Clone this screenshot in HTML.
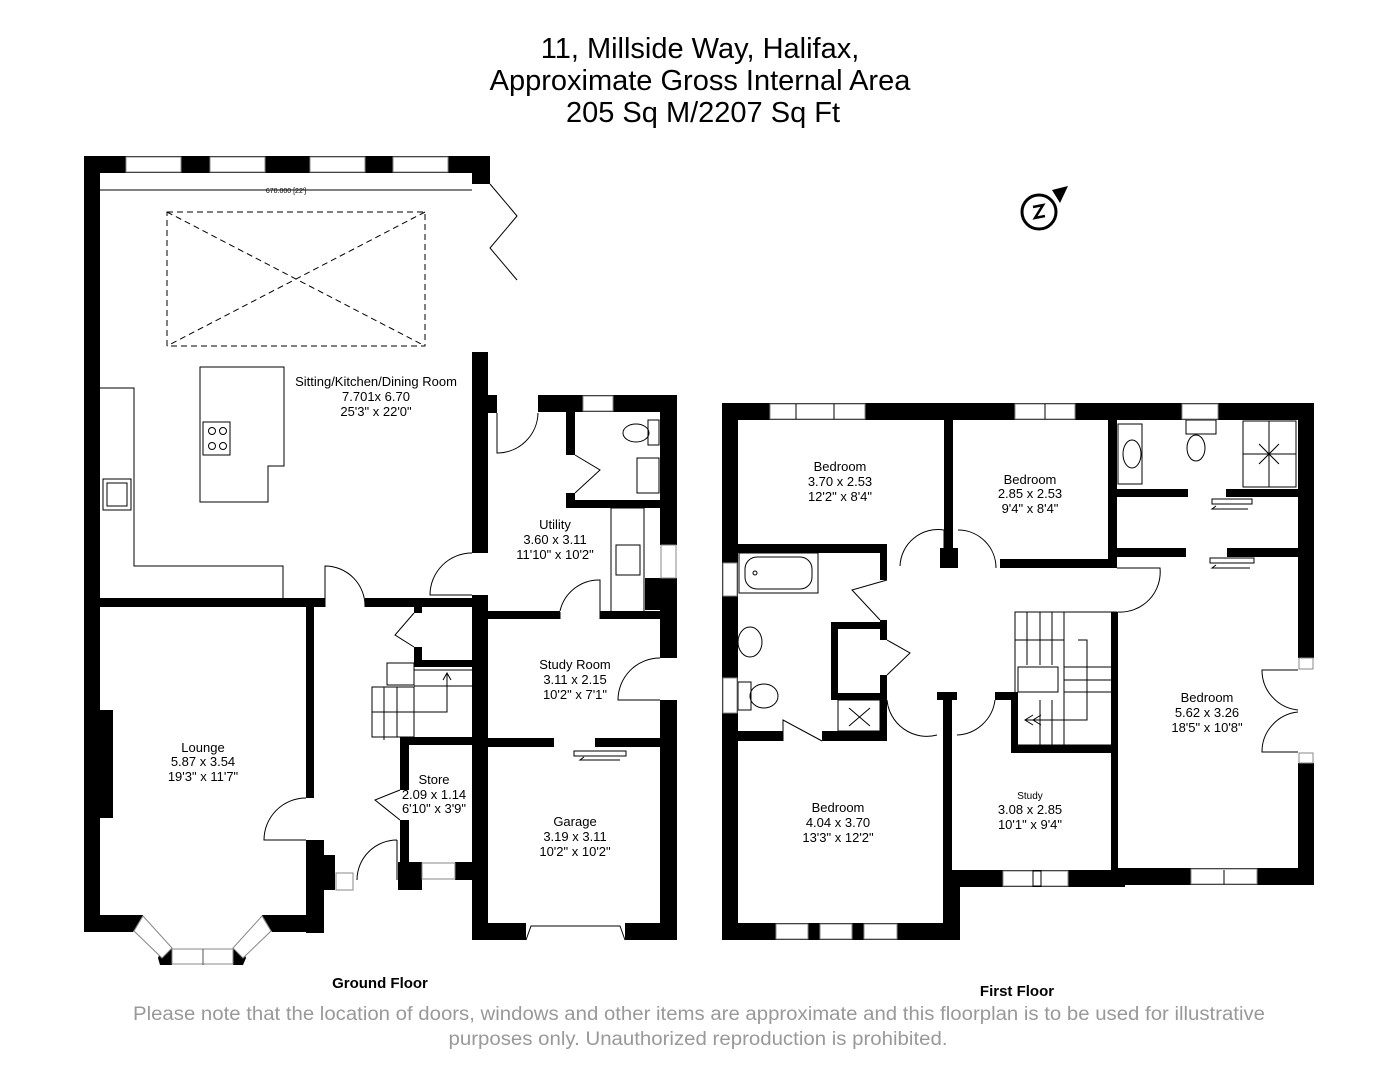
<!DOCTYPE html>
<html><head><meta charset="utf-8"><style>
html,body{margin:0;padding:0;background:#fff;}
svg{display:block;}
text{font-family:"Liberation Sans Narrow","Liberation Sans",sans-serif;fill:#000;}
</style></head><body>
<svg width="1398" height="1080" viewBox="0 0 1398 1080" xmlns="http://www.w3.org/2000/svg">
<rect width="1398" height="1080" fill="#fff"/>
<g text-anchor="middle" font-size="29">
<text x="700" y="58">11, Millside Way, Halifax,</text>
<text x="700" y="90">Approximate Gross Internal Area</text>
<text x="703" y="122">205 Sq M/2207 Sq Ft</text>
</g>

<!-- compass -->
<g stroke="#000" stroke-width="3" fill="none"><circle cx="1039" cy="212" r="17"/></g>
<polygon points="1052,190 1068,186 1060,203" fill="#000"/>
<path d="M1033,207 L1043,205 L1035,218 L1045,216" stroke="#000" stroke-width="2.5" fill="none"/>

<!-- ===== GROUND FLOOR ===== -->
<g fill="#000">
<rect x="84" y="156" width="406" height="17"/>
<rect x="472" y="156" width="18" height="28"/>
<rect x="84" y="156" width="16" height="776"/>
<rect x="100" y="710" width="13" height="108"/>
<rect x="472" y="352" width="16" height="201"/>
<rect x="472" y="595" width="16" height="345"/>
<rect x="84" y="598" width="241" height="9"/>
<rect x="365" y="598" width="107" height="9"/>
<rect x="306" y="607" width="8" height="191"/>
<rect x="306" y="840" width="18" height="93"/>
<rect x="306" y="855" width="29" height="35"/>
<polygon points="84,915 140,915 143,915 133,932 84,932"/>
<polygon points="262,915 322,915 322,932 272,932"/>
<!-- utility / wc -->
<rect x="488" y="395" width="9" height="18"/>
<rect x="538" y="395" width="139" height="17"/>
<rect x="566" y="412" width="9" height="43"/>
<rect x="566" y="493" width="9" height="15"/>
<rect x="566" y="500" width="94" height="8"/>
<rect x="660" y="395" width="17" height="150"/>
<rect x="660" y="578" width="17" height="80"/>
<rect x="660" y="700" width="17" height="240"/>
<rect x="645" y="578" width="15" height="32"/>
<rect x="488" y="611" width="72" height="8"/>
<rect x="600" y="611" width="77" height="8"/>
<rect x="488" y="738" width="66" height="9"/>
<rect x="595" y="738" width="65" height="9"/>
<rect x="472" y="923" width="54" height="17"/>
<rect x="625" y="923" width="52" height="17"/>
<!-- store / stairs -->
<rect x="414" y="607" width="8" height="6"/>
<rect x="414" y="647" width="8" height="20"/>
<rect x="414" y="660" width="58" height="7"/>
<rect x="400" y="737" width="72" height="8"/>
<rect x="400" y="745" width="9" height="45"/>
<rect x="400" y="820" width="9" height="70"/>
<rect x="398" y="862" width="24" height="28"/>
<rect x="455" y="862" width="17" height="18"/>
<!-- bay ends -->
<polygon points="162,948 172,948 172,965 160,965 158,958"/>
<polygon points="233,948 243,948 246,958 243,965 233,965"/>
</g>
<!-- windows ground -->
<g fill="#fff" stroke="#888" stroke-width="1">
<rect x="126" y="157" width="55" height="15"/>
<rect x="210" y="157" width="55" height="15"/>
<rect x="310" y="157" width="55" height="15"/>
<rect x="393" y="157" width="55" height="15"/>
<rect x="583" y="396" width="30" height="15"/>
<rect x="661" y="545" width="15" height="33"/>
<rect x="336" y="873" width="17" height="17"/>
<rect x="422" y="863" width="33" height="16"/>
<rect x="172" y="949" width="61" height="15"/>
<polygon points="143,916 172,948 162,958 134,931"/>
<polygon points="262,916 233,948 243,958 271,931"/>
</g>
<line x1="203" y1="949" x2="203" y2="965" stroke="#555"/>
<path d="M526,940 L531,926 L620,926 L625,940" fill="none" stroke="#000"/>
<!-- kitchen fittings -->
<g fill="none" stroke="#000" stroke-width="1">
<rect x="167" y="212" width="258" height="134" stroke-dasharray="6,4"/>
<line x1="167" y1="212" x2="425" y2="346" stroke-dasharray="6,4"/>
<line x1="425" y1="212" x2="167" y2="346" stroke-dasharray="6,4"/>
<polygon points="200,367 284,367 284,466 268,466 268,502 200,502"/>
<rect x="203" y="422" width="27" height="33"/>
<circle cx="212" cy="431" r="3.5"/><circle cx="223" cy="431" r="3.5"/>
<circle cx="212" cy="446" r="3.5"/><circle cx="223" cy="446" r="3.5"/>
<polyline points="100,388 134,388 134,566 283,566 283,598"/>
<rect x="103" y="479" width="28" height="31"/>
<rect x="107" y="483" width="20" height="23"/>
<polyline points="490,184 517,216 490,248 517,280"/>
<line x1="100" y1="190" x2="472" y2="190"/>
<!-- doors -->
<path d="M497,413 L497,453 A41,41 0 0 0 538,413"/>
<path d="M575,455 L600,470 L575,493"/>
<path d="M472,553 A42,42 0 0 0 430,595 L472,595"/>
<path d="M560,619 L560,612 M600,619 L600,580 A40,40 0 0 0 560,611"/>
<path d="M325,607 L325,566 A40,40 0 0 1 365,607"/>
<path d="M660,658 A42,42 0 0 0 618,700 L660,700"/>
<path d="M306,798 A42,42 0 0 0 264,840 L306,840"/>
<path d="M400,790 L375,800 L400,820"/>
<path d="M414,613 L395,635 L414,647"/>
<path d="M397,840 L397,880 M397,840 A40,40 0 0 0 357,880"/>
<rect x="611" y="508" width="33" height="104"/>
<rect x="616" y="545" width="24" height="30"/>
<ellipse cx="636" cy="433" rx="13" ry="9"/>
<rect x="648" y="420" width="11" height="25"/>
<rect x="637" y="458" width="22" height="35"/>
<!-- stairs -->
<rect x="387" y="663" width="27" height="22"/>
<rect x="372" y="687" width="42" height="50"/>
<line x1="384" y1="687" x2="384" y2="740"/><line x1="397" y1="687" x2="397" y2="737"/>
<line x1="372" y1="712" x2="414" y2="712"/>
<line x1="414" y1="670" x2="472" y2="670"/>
<line x1="414" y1="686" x2="472" y2="686"/>
<line x1="414" y1="737" x2="400" y2="737"/>
<polyline points="414,712 447,712 447,673"/>
<polyline points="443,680 447,673 451,680"/>
<rect x="574" y="751" width="52" height="5"/>
<polyline points="620,760 580,760 584,757"/>
</g>
<g font-size="13" text-anchor="middle">
<text x="376" y="386">Sitting/Kitchen/Dining Room</text>
<text x="376" y="401">7.701x 6.70</text>
<text x="376" y="416">25'3" x 22'0"</text>
<text x="555" y="529">Utility</text>
<text x="555" y="544">3.60 x 3.11</text>
<text x="555" y="559">11'10" x 10'2"</text>
<text x="575" y="669">Study Room</text>
<text x="575" y="684">3.11 x 2.15</text>
<text x="575" y="699">10'2" x 7'1"</text>
<text x="203" y="752">Lounge</text>
<text x="203" y="766">5.87 x 3.54</text>
<text x="203" y="781">19'3" x 11'7"</text>
<text x="434" y="784">Store</text>
<text x="434" y="799">2.09 x 1.14</text>
<text x="434" y="813">6'10" x 3'9"</text>
<text x="575" y="826">Garage</text>
<text x="575" y="841">3.19 x 3.11</text>
<text x="575" y="856">10'2" x 10'2"</text>
<text x="286" y="193" font-size="7">670.000 [22']</text>
<text x="380" y="988" font-size="15" font-weight="bold">Ground Floor</text>
</g>

<!-- ===== FIRST FLOOR ===== -->
<g fill="#000">
<rect x="722" y="403" width="592" height="17"/>
<rect x="722" y="403" width="16" height="537"/>
<rect x="944" y="420" width="9" height="140"/>
<rect x="940" y="548" width="18" height="20"/>
<rect x="738" y="544" width="149" height="9"/>
<rect x="880" y="553" width="7" height="27"/>
<rect x="1000" y="559" width="117" height="9"/>
<rect x="1108" y="420" width="9" height="148"/>
<rect x="1111" y="612" width="7" height="268"/>
<rect x="1117" y="489" width="71" height="8"/>
<rect x="1226" y="489" width="72" height="8"/>
<rect x="1117" y="548" width="69" height="9"/>
<rect x="1227" y="548" width="71" height="9"/>
<rect x="1298" y="403" width="16" height="255"/>
<rect x="1298" y="763" width="16" height="122"/>
<rect x="1118" y="868" width="196" height="17"/>
<rect x="943" y="870" width="182" height="17"/>
<rect x="722" y="923" width="238" height="17"/>
<rect x="943" y="692" width="9" height="248"/>
<rect x="943" y="870" width="17" height="70"/>
<rect x="937" y="692" width="20" height="8"/>
<!-- bathroom -->
<rect x="738" y="731" width="45" height="10"/>
<rect x="822" y="731" width="65" height="10"/>
<rect x="831" y="622" width="7" height="78"/>
<rect x="831" y="622" width="56" height="7"/>
<rect x="831" y="693" width="56" height="7"/>
<rect x="880" y="620" width="7" height="20"/>
<rect x="880" y="675" width="7" height="66"/>
<!-- stair well -->
<rect x="1011" y="692" width="7" height="58"/>
<rect x="995" y="692" width="23" height="8"/>
<rect x="1011" y="745" width="106" height="8"/>
</g>
<g fill="#fff" stroke="#888" stroke-width="1">
<rect x="770" y="404" width="95" height="15"/>
<rect x="1015" y="404" width="60" height="15"/>
<rect x="1182" y="404" width="36" height="15"/>
<rect x="723" y="563" width="14" height="33"/>
<rect x="723" y="678" width="14" height="35"/>
<rect x="1299" y="658" width="14" height="11"/>
<rect x="1299" y="753" width="14" height="10"/>
<rect x="1191" y="869" width="66" height="15"/>
<rect x="1003" y="871" width="65" height="15"/>
<rect x="776" y="924" width="32" height="15"/>
<rect x="820" y="924" width="32" height="15"/>
<rect x="864" y="924" width="33" height="15"/>
</g>
<g fill="none" stroke="#000" stroke-width="1">
<line x1="796" y1="404" x2="796" y2="419"/><line x1="834" y1="404" x2="834" y2="419"/>
<line x1="1045" y1="404" x2="1045" y2="419"/>
<line x1="1224" y1="870" x2="1224" y2="884"/>
<rect x="1033" y="871" width="8" height="15"/>
<!-- ensuite fittings -->
<rect x="1118" y="424" width="24" height="60"/>
<ellipse cx="1132" cy="454" rx="9" ry="14"/>
<rect x="1186" y="420" width="30" height="14"/>
<ellipse cx="1196" cy="448" rx="9" ry="13"/>
<rect x="1243" y="421" width="53" height="66"/>
<line x1="1269" y1="421" x2="1269" y2="487"/><line x1="1243" y1="454" x2="1296" y2="454"/>
<line x1="1259" y1="444" x2="1279" y2="464"/><line x1="1279" y1="444" x2="1259" y2="464"/>
<rect x="1212" y="499" width="40" height="5"/>
<polyline points="1248,509 1212,509 1216,506"/>
<rect x="1210" y="558" width="44" height="5"/>
<polyline points="1250,568 1212,568 1216,565"/>
<!-- bathroom fittings -->
<rect x="739" y="553" width="79" height="40"/>
<rect x="745" y="557" width="67" height="32" rx="12"/>
<circle cx="755" cy="573" r="2"/>
<ellipse cx="750" cy="642" rx="12" ry="15"/>
<rect x="738" y="682" width="13" height="28"/>
<ellipse cx="764" cy="696" rx="14" ry="12"/>
<rect x="838" y="700" width="42" height="31"/>
<line x1="849" y1="708" x2="870" y2="726"/><line x1="870" y1="708" x2="849" y2="726"/>
<!-- doors -->
<path d="M944,560 L944,530 A38,38 0 0 0 900,566"/>
<path d="M958,530 A38,38 0 0 1 996,568"/>
<path d="M887,580 L852,590 L880,620"/>
<path d="M887,640 L910,653 L887,675"/>
<path d="M783,741 L783,720 L822,741"/>
<path d="M887,700 A40,40 0 0 0 937,735"/>
<path d="M957,735 A40,40 0 0 0 995,700"/>
<path d="M1117,568 L1160,568 A40,40 0 0 1 1118,612"/>
<path d="M1298,670 L1262,670 A40,40 0 0 0 1298,710"/>
<path d="M1298,752 L1262,752 A40,40 0 0 1 1298,712"/>
<!-- stairs -->
<rect x="1015" y="612" width="102" height="133"/>
<line x1="1027" y1="612" x2="1027" y2="665"/><line x1="1040" y1="612" x2="1040" y2="665"/>
<line x1="1052" y1="612" x2="1052" y2="665"/><line x1="1064" y1="612" x2="1064" y2="745"/>
<line x1="1015" y1="640" x2="1064" y2="640"/>
<rect x="1018" y="667" width="40" height="25"/>
<line x1="1064" y1="667" x2="1117" y2="667"/><line x1="1064" y1="680" x2="1117" y2="680"/>
<line x1="1064" y1="692" x2="1117" y2="692"/>
<line x1="1040" y1="700" x2="1040" y2="745"/><line x1="1052" y1="700" x2="1052" y2="745"/>
<polyline points="1078,640 1087,640 1087,720 1025,720"/>
<polyline points="1033,715 1025,720 1033,725"/>
<polyline points="1041,715 1033,720 1041,725"/>
</g>
<g font-size="13" text-anchor="middle">
<text x="840" y="471">Bedroom</text>
<text x="840" y="486">3.70 x 2.53</text>
<text x="840" y="501">12'2" x 8'4"</text>
<text x="1030" y="484">Bedroom</text>
<text x="1030" y="498">2.85 x 2.53</text>
<text x="1030" y="513">9'4" x 8'4"</text>
<text x="1207" y="702">Bedroom</text>
<text x="1207" y="717">5.62 x 3.26</text>
<text x="1207" y="732">18'5" x 10'8"</text>
<text x="838" y="812">Bedroom</text>
<text x="838" y="827">4.04 x 3.70</text>
<text x="838" y="842">13'3" x 12'2"</text>
<text x="1030" y="799" font-size="10">Study</text>
<text x="1030" y="814">3.08 x 2.85</text>
<text x="1030" y="829">10'1" x 9'4"</text>
<text x="1017" y="996" font-size="15" font-weight="bold">First Floor</text>
</g>
<g font-size="19" text-anchor="middle">
<text x="699" y="1020" style="fill:#999" textLength="1132" lengthAdjust="spacingAndGlyphs">Please note that the location of doors, windows and other items are approximate and this floorplan is to be used for illustrative</text>
<text x="698" y="1045" style="fill:#999" textLength="499" lengthAdjust="spacingAndGlyphs">purposes only. Unauthorized reproduction is prohibited.</text>
</g>
</svg>
</body></html>
